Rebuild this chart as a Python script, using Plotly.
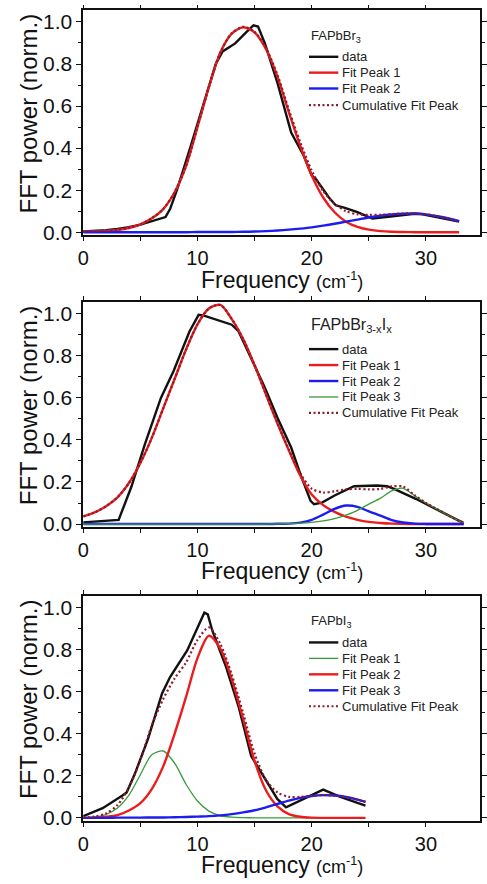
import plotly.graph_objects as go

W, H = 487, 884

# ---------------- data ----------------
# Panel 1: FAPbBr3
p1_data_x = [0, 1, 2, 3, 4, 5, 6, 6.6, 7.2, 7.6, 8.2, 9.3, 10.5, 11.6, 12.2, 13.3, 14.3, 14.9, 15.3, 15.9,
             17.0, 18.2, 19.3, 20.0, 20.4, 21.5, 22.1, 22.9, 24.0, 25.3, 26.5, 27.5, 29.0, 29.7, 31.0, 32.9]
p1_data_y = [0.003, 0.006, 0.01, 0.016, 0.024, 0.036, 0.052, 0.063, 0.072, 0.11, 0.2, 0.39, 0.605, 0.80, 0.86,
             0.898, 0.953, 0.984, 0.978, 0.898, 0.71, 0.474, 0.364, 0.27, 0.25, 0.165, 0.128, 0.116, 0.095, 0.065,
             0.072, 0.079, 0.088, 0.085, 0.072, 0.05]
p1_fit_x = [0, 1, 2, 3, 4, 5, 6, 7, 8, 9, 10, 11, 12, 13, 14, 15, 16, 17, 18, 19, 20, 21, 22, 23, 24, 25, 26,
            27, 28, 29, 30, 31, 32, 32.9]
p1_peak1 = [0.003, 0.004, 0.006, 0.011, 0.02, 0.037, 0.066, 0.11, 0.19, 0.315, 0.5, 0.69, 0.855, 0.945, 0.975,
            0.95, 0.87, 0.74, 0.57, 0.41, 0.27, 0.165, 0.095, 0.05, 0.025, 0.012, 0.005, 0.002, 0.001, 0, 0, 0, 0, 0]
p1_peak2 = [0, 0, 0, 0, 0, 0, 0, 0, 0, 0, 0.001, 0.001, 0.001, 0.001, 0.002, 0.003, 0.005, 0.008, 0.012, 0.017,
            0.023, 0.031, 0.04, 0.05, 0.06, 0.07, 0.078, 0.084, 0.088, 0.089, 0.085, 0.076, 0.065, 0.053]
p1_cumul = [0.003, 0.004, 0.006, 0.011, 0.02, 0.037, 0.066, 0.11, 0.19, 0.315, 0.501, 0.691, 0.856, 0.946, 0.977,
            0.953, 0.875, 0.748, 0.582, 0.427, 0.293, 0.196, 0.135, 0.1, 0.085, 0.082, 0.083, 0.086, 0.089, 0.089,
            0.085, 0.076, 0.065, 0.053]

# Panel 2: FAPbBr3-xIx
p2_data_x = [0, 1.2, 2.2, 3.1, 4.2, 5.4, 6.8, 7.9, 9.3, 10.1, 10.5, 11.6, 13.0, 13.6, 14.7, 15.9, 17.0, 18.2,
             19.0, 19.9, 20.2, 20.9, 22.0, 23.2, 23.7, 25.7, 26.6, 27.2, 29.1, 31.1, 33.3]
p2_data_y = [0.008, 0.012, 0.017, 0.02, 0.175, 0.38, 0.60, 0.727, 0.916, 0.995, 0.992, 0.972, 0.948, 0.916, 0.79,
             0.648, 0.506, 0.364, 0.238, 0.11, 0.094, 0.102, 0.136, 0.167, 0.18, 0.183, 0.18, 0.167, 0.12, 0.065,
             0.004]
p2_fit_x = [0, 1, 2, 3, 4, 5, 6, 7, 8, 9, 10, 11, 12, 13, 14, 15, 16, 17, 18, 19, 20, 21, 22, 23, 24, 25, 26,
            27, 28, 29, 30, 31, 32, 33, 33.3]
p2_peak1 = [0.036, 0.055, 0.085, 0.127, 0.195, 0.29, 0.41, 0.55, 0.69, 0.83, 0.95, 1.025, 1.042, 0.975, 0.88,
            0.755, 0.615, 0.478, 0.35, 0.23, 0.14, 0.09, 0.058, 0.035, 0.02, 0.01, 0.005, 0.002, 0.001, 0, 0, 0,
            0, 0, 0]
p2_peak2 = [0, 0, 0, 0, 0, 0, 0, 0, 0, 0, 0, 0, 0, 0, 0, 0, 0, 0.001, 0.002, 0.007, 0.02, 0.045, 0.072, 0.088,
            0.082, 0.06, 0.04, 0.019, 0.007, 0.002, 0.0005, 0, 0, 0, 0]
p2_peak3 = [0, 0, 0, 0, 0, 0, 0, 0, 0, 0, 0, 0, 0, 0, 0, 0, 0, 0.001, 0.002, 0.004, 0.008, 0.015, 0.026, 0.042,
            0.065, 0.095, 0.122, 0.158, 0.17, 0.135, 0.1, 0.07, 0.04, 0.013, 0.006]
p2_cumul = [0.036, 0.055, 0.085, 0.127, 0.195, 0.29, 0.41, 0.55, 0.69, 0.83, 0.95, 1.025, 1.042, 0.975, 0.88,
            0.755, 0.615, 0.48, 0.354, 0.241, 0.168, 0.15, 0.156, 0.165, 0.167, 0.165, 0.167, 0.179, 0.178, 0.137,
            0.1, 0.07, 0.04, 0.013, 0.006]

# Panel 3: FAPbI3
p3_data_x = [0, 1.7, 3.4, 3.8, 4.5, 5.65, 6.9, 7.6, 9.1, 10.05, 10.6, 10.9, 11.3, 12.5, 13.6, 14.7, 15.9, 17.0,
             17.75, 19.3, 21.0, 22.5, 24.7]
p3_data_y = [0.008, 0.046, 0.105, 0.121, 0.207, 0.372, 0.592, 0.67, 0.796, 0.906, 0.976, 0.968, 0.89, 0.718,
             0.529, 0.294, 0.184, 0.089, 0.05, 0.089, 0.134, 0.1, 0.058]
p3_fit_x = [0, 1, 2, 3, 4, 5, 6, 7, 8, 9, 10, 11, 12, 13, 14, 15, 16, 17, 18, 19, 20, 21, 22, 23, 24, 24.7]
p3_peak1 = [0.001, 0.005, 0.016, 0.047, 0.108, 0.205, 0.30, 0.318, 0.26, 0.16, 0.08, 0.032, 0.01, 0.003, 0.001,
            0, 0, 0, 0, 0, 0, 0, 0, 0, 0, 0]
p3_peak2 = [0, 0.001, 0.005, 0.013, 0.035, 0.07, 0.137, 0.245, 0.40, 0.575, 0.76, 0.866, 0.805, 0.66, 0.47,
            0.27, 0.13, 0.055, 0.018, 0.005, 0.001, 0, 0, 0, 0, 0]
p3_peak3 = [0, 0, 0, 0.001, 0.001, 0.001, 0.002, 0.002, 0.003, 0.004, 0.006, 0.008, 0.012, 0.018, 0.026, 0.036,
            0.05, 0.066, 0.082, 0.095, 0.104, 0.108, 0.106, 0.099, 0.087, 0.076]
p3_cumul = [0.001, 0.006, 0.021, 0.061, 0.144, 0.276, 0.439, 0.565, 0.663, 0.739, 0.846, 0.906, 0.827, 0.681,
            0.497, 0.306, 0.18, 0.121, 0.1, 0.1, 0.105, 0.108, 0.106, 0.099, 0.087, 0.076]

x_ticks = [0, 10, 20, 30]
y_ticks = [0.0, 0.2, 0.4, 0.6, 0.8, 1.0]
x_title = "Frequency"
x_unit = "(cm<sup>-1</sup>)"
y_title = "FFT power (norm.)"
sample_labels = ["FAPbBr<sub>3</sub>", "FAPbBr<sub>3-x</sub>I<sub>x</sub>", "FAPbI<sub>3</sub>"]

# ---------------- styles ----------------
FONT = "Arial, 'Liberation Sans', sans-serif"
BLACK = "#111111"
RED = "#ec1c1c"
BLUE = "#1c1cf0"
GREEN = "#3a9a3a"
DOT = "#8c1c2a"

STY = {
    "data": dict(color=BLACK, width=2.4),
    "red": dict(color=RED, width=2.4),
    "blue": dict(color=BLUE, width=2.4),
    "green": dict(color=GREEN, width=1.3),
    "cum": dict(color=DOT, width=2.2, dash="2px,2.5px"),
}

panels = [
    dict(top=10.5, bottom=237.5, title_off=45.5,
         series=[("data", p1_data_x, p1_data_y, "data", "linear"),
                 ("red", p1_fit_x, p1_peak1, "Fit Peak 1", "spline"),
                 ("blue", p1_fit_x, p1_peak2, "Fit Peak 2", "spline"),
                 ("cum", p1_fit_x, p1_cumul, "Cumulative Fit Peak", "spline")],
         title_size=13, title_y=36.7, rows=[57.3, 73.3, 89.3, 106.0]),
    dict(top=305.0, bottom=532.0, title_off=44.5,
         series=[("data", p2_data_x, p2_data_y, "data", "linear"),
                 ("red", p2_fit_x, p2_peak1, "Fit Peak 1", "spline"),
                 ("blue", p2_fit_x, p2_peak2, "Fit Peak 2", "spline"),
                 ("green", p2_fit_x, p2_peak3, "Fit Peak 3", "spline"),
                 ("cum", p2_fit_x, p2_cumul, "Cumulative Fit Peak", "spline")],
         title_size=16, title_y=328.5, rows=[352.3, 368.4, 384.5, 400.6, 416.7]),
    dict(top=601.5, bottom=828.5, title_off=44.0,
         series=[("data", p3_data_x, p3_data_y, "data", "linear"),
                 ("green", p3_fit_x, p3_peak1, "Fit Peak 1", "spline"),
                 ("red", p3_fit_x, p3_peak2, "Fit Peak 2", "spline"),
                 ("blue", p3_fit_x, p3_peak3, "Fit Peak 3", "spline"),
                 ("cum", p3_fit_x, p3_cumul, "Cumulative Fit Peak", "spline")],
         title_size=13, title_y=627.3, rows=[648.3, 664.4, 680.5, 696.6, 712.7]),
]

X_LEFT, X_RIGHT = 79.0, 485.0


def fx(p):
    return p / W


def fy(p):
    return 1 - p / H


fig = go.Figure()
layout = dict(
    width=W, height=H, margin=dict(l=0, r=0, t=0, b=0),
    paper_bgcolor="white", plot_bgcolor="white", showlegend=False,
    font=dict(family=FONT, color=BLACK),
)
shapes, annotations = [], []

for i, pn in enumerate(panels):
    n = "" if i == 0 else str(i + 1)
    xa, ya = "x" + n, "y" + n
    for key, xs, ys, name, shape in pn["series"]:
        ln = dict(STY[key])
        ln["shape"] = shape
        if shape == "spline":
            ln["smoothing"] = 0.8
        fig.add_trace(go.Scatter(x=xs, y=ys, mode="lines", name=name, line=ln,
                                 xaxis=xa, yaxis=ya, hoverinfo="skip"))
    dom_y = [fy(pn["bottom"]), fy(pn["top"])]
    common = dict(showline=True, linecolor=BLACK, linewidth=1.6, mirror="ticks",
                  ticks="outside", tickcolor=BLACK, tickwidth=1.4,
                  showgrid=False, zeroline=False)
    layout["xaxis" + n] = dict(common, domain=[fx(X_LEFT), fx(X_RIGHT)], range=[0, 34.73],
                               anchor=ya, tickmode="array", tickvals=x_ticks, ticklen=4,
                               ticktext=[str(v) for v in x_ticks],
                               tickfont=dict(family=FONT, size=20, color=BLACK),
                               minor=dict(tickvals=[5, 15, 25], ticks="outside", ticklen=4,
                                          tickwidth=1.2, tickcolor=BLACK))
    layout["yaxis" + n] = dict(common, domain=dom_y, range=[-0.015, 1.055], anchor=xa,
                               tickmode="array", tickvals=y_ticks, ticklen=5,
                               ticktext=["%.1f" % v for v in y_ticks],
                               tickfont=dict(family=FONT, size=21, color=BLACK),
                               minor=dict(tickvals=[0.1, 0.3, 0.5, 0.7, 0.9], ticks="outside",
                                          ticklen=3, tickwidth=1.2, tickcolor=BLACK))
    # axis titles
    annotations.append(dict(xref="paper", yref="paper", x=fx(282), y=fy(pn["bottom"] + pn["title_off"]),
                            xanchor="center", yanchor="middle", showarrow=False,
                            text=x_title + " <span style='font-size:18px'>" + x_unit + "</span>",
                            font=dict(family=FONT, size=23, color=BLACK)))
    annotations.append(dict(xref="paper", yref="paper", x=fx(23),
                            y=fy((pn["top"] + pn["bottom"]) / 2 - 10),
                            xanchor="center", yanchor="middle", showarrow=False, textangle=-90,
                            text=y_title, font=dict(family=FONT, size=24, color=BLACK)))
    # legend (title + entries)
    annotations.append(dict(xref="paper", yref="paper", x=fx(309.5), y=fy(pn["title_y"]),
                            xanchor="left", yanchor="middle", showarrow=False,
                            text=sample_labels[i],
                            font=dict(family=FONT, size=pn["title_size"], color="#222222")))
    for (key, xs, ys, name, shape), ry in zip(pn["series"], pn["rows"]):
        st = STY[key]
        shapes.append(dict(type="line", xref="paper", yref="paper",
                           x0=fx(310), x1=fx(340), y0=fy(ry), y1=fy(ry),
                           line=dict(color=st["color"], width=st["width"],
                                     dash=st.get("dash", "solid"))))
        annotations.append(dict(xref="paper", yref="paper", x=fx(342), y=fy(ry),
                                xanchor="left", yanchor="middle", showarrow=False,
                                text=name, font=dict(family=FONT, size=13, color="#222222")))

layout["shapes"] = shapes
layout["annotations"] = annotations
fig.update_layout(**layout)
fig.write_html("out.html")
